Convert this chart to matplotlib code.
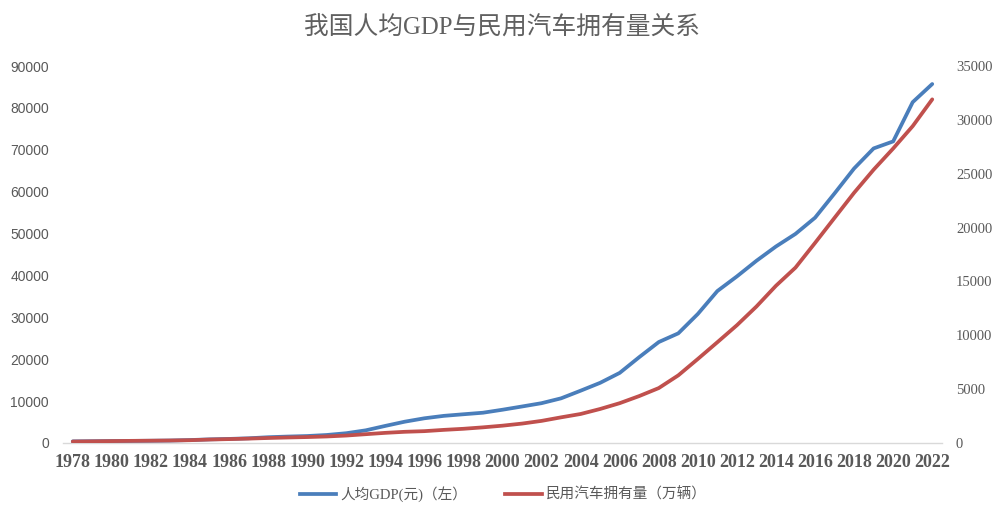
import matplotlib
matplotlib.use("Agg")
import matplotlib.pyplot as plt
from matplotlib.lines import Line2D

years = list(range(1978, 2023))
gdp_per_capita = [385, 423, 468, 497, 533, 588, 702, 866, 973, 1123,
                  1378, 1536, 1663, 1912, 2334, 3027, 4081, 5091, 5898, 6481,
                  6860, 7229, 7942, 8717, 9506, 10666, 12487, 14368, 16738, 20494,
                  24100, 26180, 30808, 36277, 39771, 43497, 46912, 49922, 53783, 59592,
                  65534, 70328, 72000, 81370, 85698]
car_ownership = [135.84, 155.82, 178.29, 199.14, 215.54, 232.63, 260.83, 321.12, 361.95, 408.07,
                 464.38, 511.32, 551.36, 606.11, 691.74, 817.58, 941.95, 1040.0, 1100.08, 1219.09,
                 1319.30, 1452.94, 1608.91, 1802.04, 2053.17, 2382.93, 2693.71, 3159.66, 3697.35, 4358.36,
                 5099.61, 6280.61, 7801.83, 9356.32, 10933.09, 12670.14, 14598.11, 16284.45, 18574.54, 20906.67,
                 23231.23, 25376.38, 27340.92, 29418.59, 31903.0]
left_ticks = list(range(0, 90001, 10000))
right_ticks = list(range(0, 35001, 5000))
title = "我国人均GDP与民用汽车拥有量关系"
label_gdp = "人均GDP(元)（左）"
label_car = "民用汽车拥有量（万辆）"

W, H = 997, 507
fig = plt.figure(figsize=(W / 100, H / 100), dpi=100)
ax = fig.add_axes([63 / W, 64 / H, (942 - 63) / W, 377 / H])
ax2 = ax.twinx()

blue = "#4A7EBB"
red = "#C0504D"
gray = "#595959"

idx = list(range(len(years)))
ax.plot(idx, gdp_per_capita, color=blue, lw=2.7, solid_capstyle="round", zorder=3)
ax2.plot(idx, car_ownership, color=red, lw=2.7, solid_capstyle="round", zorder=3)

ax.set_xlim(-0.5, len(years) - 0.5)
ax.set_ylim(0, 90000)
ax2.set_ylim(0, 35000)
ax.set_yticks(left_ticks)
ax2.set_yticks(right_ticks)
ax.set_yticklabels([str(v) for v in left_ticks], family="Liberation Sans", fontsize=10, color=gray)
ax2.set_yticklabels([str(v) for v in right_ticks], family="Liberation Serif", fontsize=10.5, color=gray)
ax.set_xticks(idx[::2])
ax.set_xticklabels([str(y) for y in years[::2]], family="Liberation Serif", fontsize=13,
                   fontweight="bold", color=gray)

for a in (ax, ax2):
    for s in a.spines.values():
        s.set_visible(False)
    a.tick_params(length=0)
ax.spines["bottom"].set_visible(True)
ax.spines["bottom"].set_color("#D9D9D9")
ax.spines["bottom"].set_linewidth(1.0)
ax.tick_params(axis="y", pad=10)
ax2.tick_params(axis="y", pad=10)
ax.tick_params(axis="x", pad=8)

fig.text(0.504, 1 - 27 / H, title, ha="center", va="center", fontsize=17.8, color="#606060",
         family=["Liberation Serif", "Noto Sans CJK SC"])

handles = [Line2D([], [], color=blue, lw=2.7), Line2D([], [], color=red, lw=2.7)]
fig.legend(handles, [label_gdp, label_car], loc="center", bbox_to_anchor=(0.505, 13 / H), ncol=2,
           frameon=False, handlelength=2.5, columnspacing=2.6, handletextpad=0.3,
           prop={"family": ["Liberation Serif", "Noto Sans CJK SC"], "size": 10.5},
           labelcolor=gray)

fig.savefig("out.png", dpi=100)
